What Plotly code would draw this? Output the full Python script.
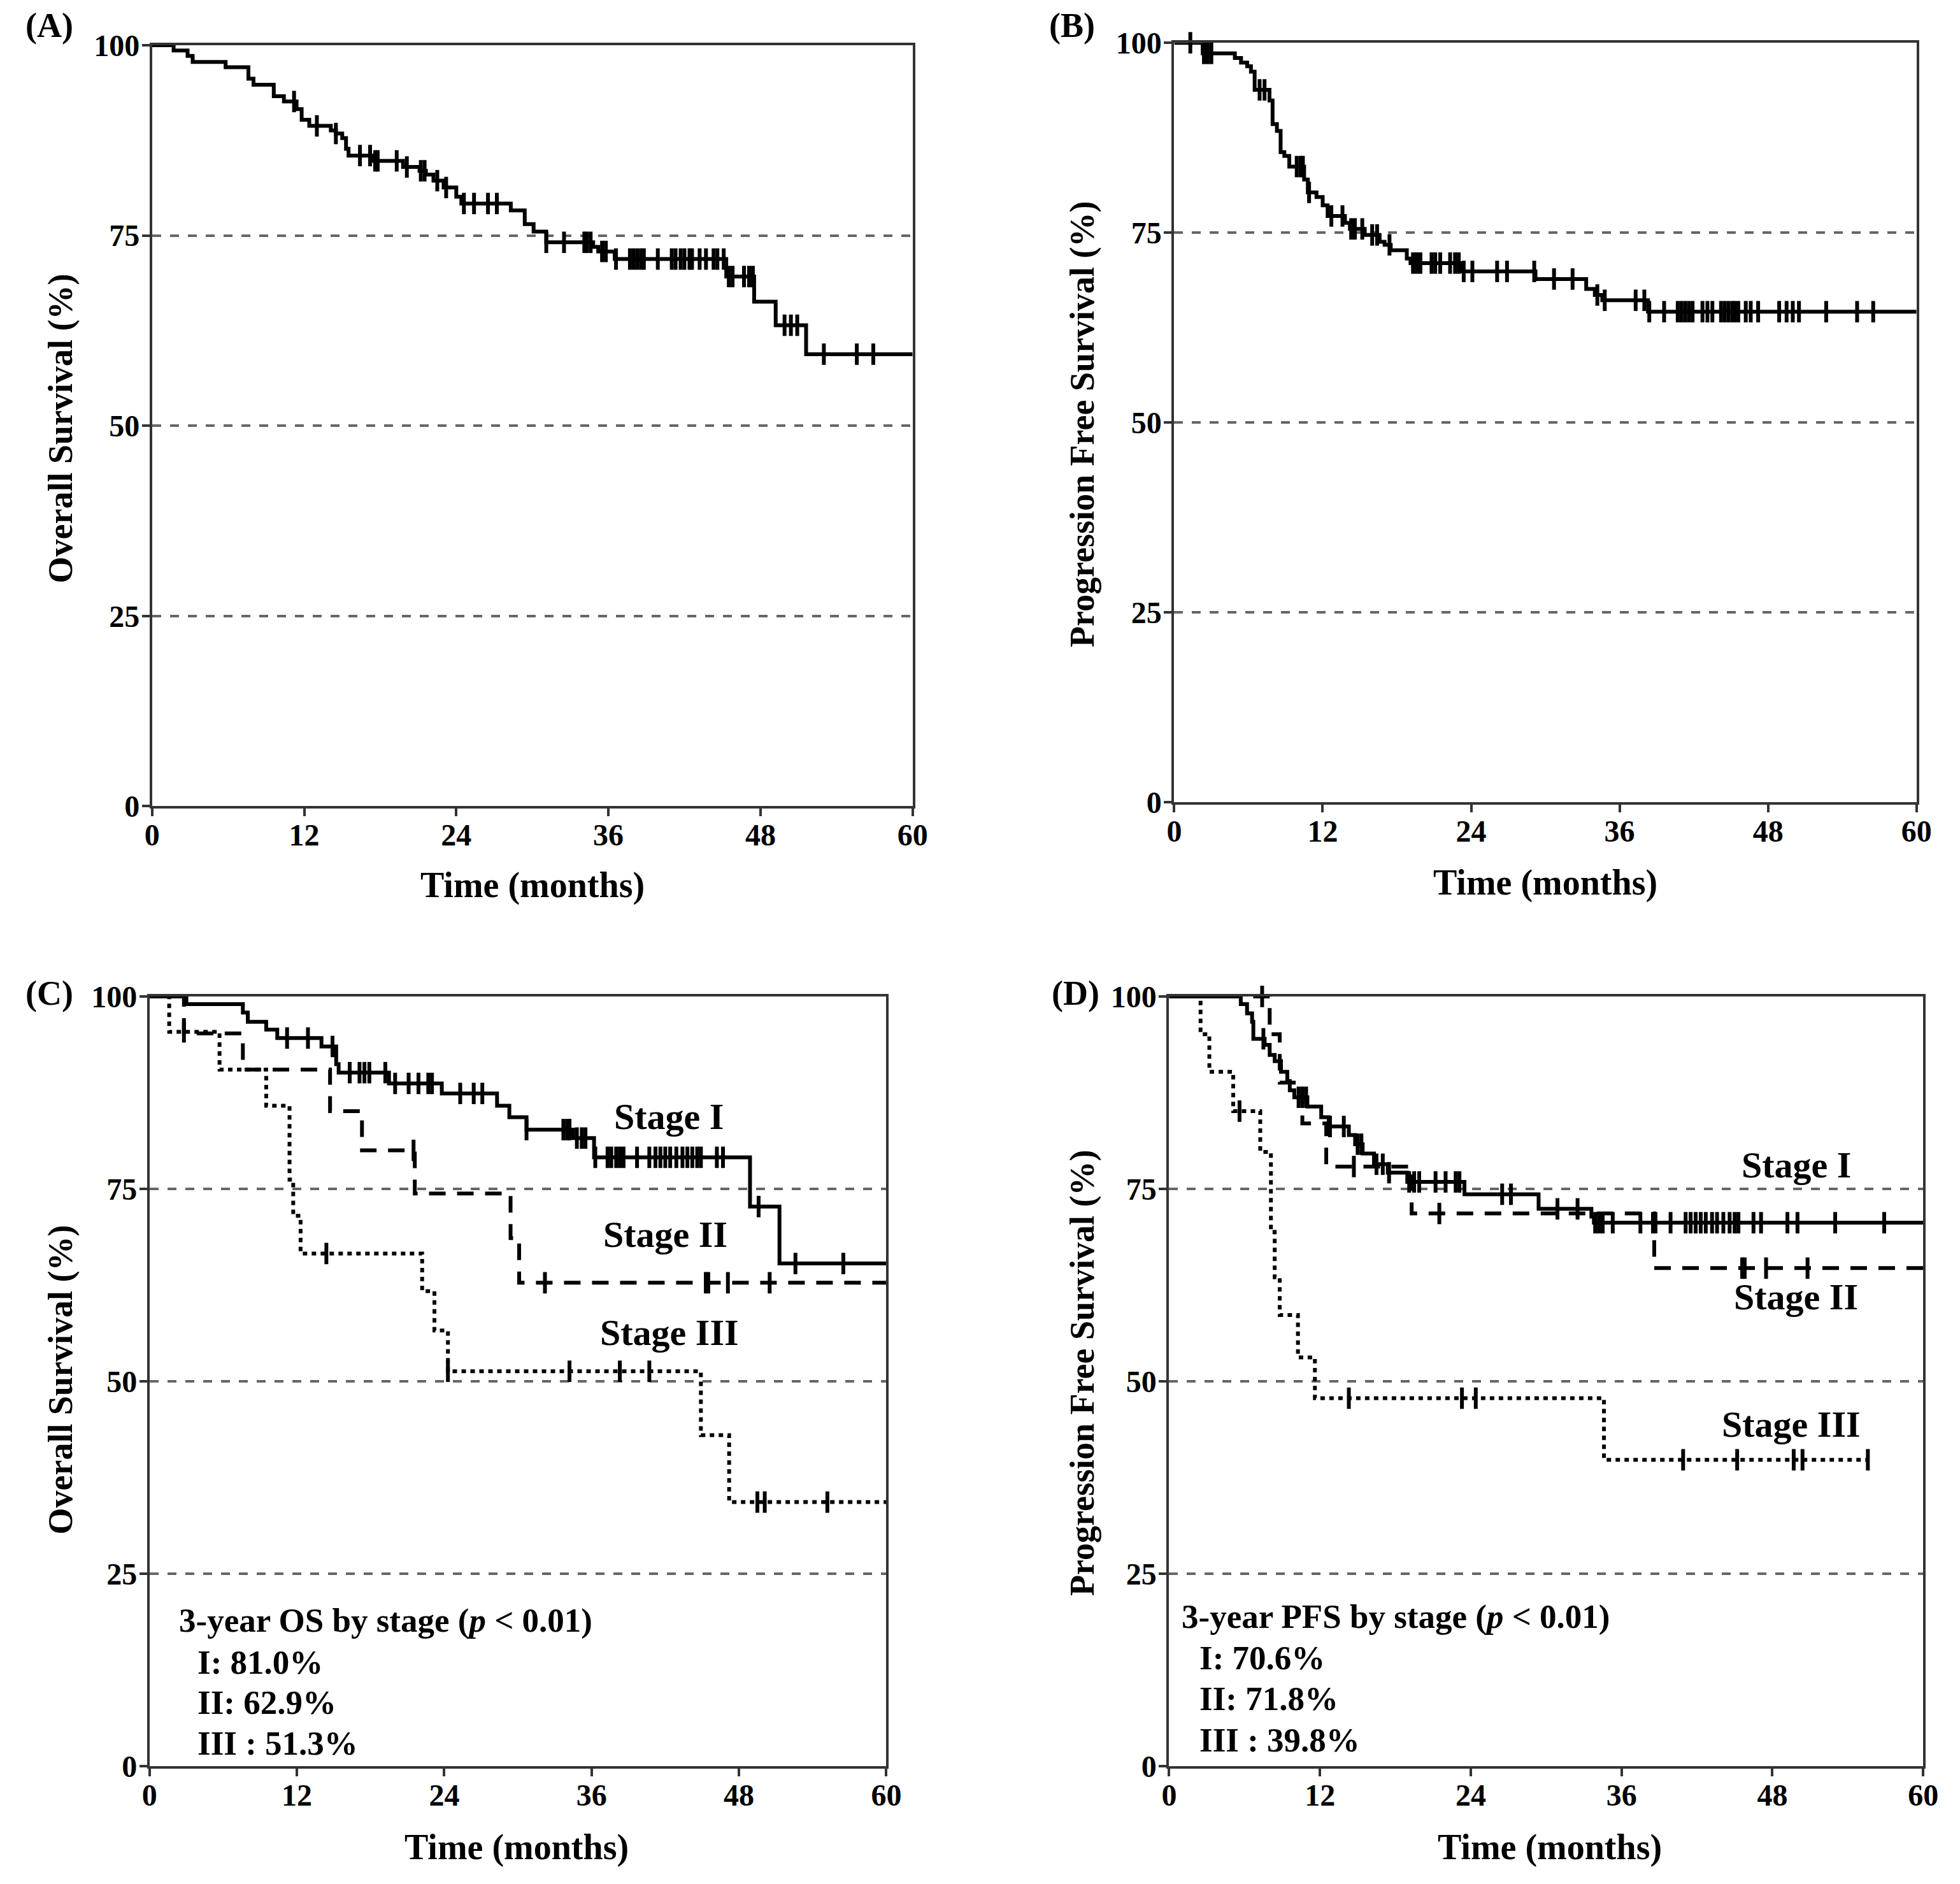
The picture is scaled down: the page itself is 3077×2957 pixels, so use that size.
import plotly.graph_objects as go

# ---------------- DATA ----------------
# Panel A: Overall survival (all patients)
A_time = [0, 1.7, 2.8, 3.2, 5.8, 7.6, 8.0, 9.6, 10.4, 11.4, 11.8, 12.4, 14.1, 14.5, 15.0, 15.3, 15.5,
          17.5, 19.8, 21.1, 21.6, 22.2, 23.0, 24.0, 24.4, 28.3, 29.4, 30.1, 31.1, 34.8, 35.2, 36.5,
          45.3, 47.5, 49.2, 51.6]
A_surv = [100, 99.3, 98.6, 97.8, 97.1, 95.6, 94.8, 93.3, 92.6, 91.6, 90.2, 89.4, 88.8, 88.4, 87.8, 86.4, 85.5,
          84.8, 84.0, 83.5, 83.0, 82.2, 81.3, 80.1, 79.2, 78.3, 76.5, 75.5, 74.1, 73.5, 72.9, 71.9,
          69.6, 66.3, 63.2, 59.4]
A_censor = [11.2, 13.0, 14.5, 16.4, 17.2, 17.6, 17.8, 19.3, 20.1, 21.2, 21.5, 22.5, 23.2, 24.6, 25.4, 26.5,
            27.2, 31.1, 32.5, 34.1, 34.3, 34.6, 35.5, 35.8, 36.6, 37.7, 38.0, 38.3, 38.6, 38.8, 39.9, 41.0,
            41.3, 41.7, 42.0, 42.4, 42.6, 43.2, 43.7, 44.3, 44.6, 45.1, 45.5, 45.8, 46.7, 47.1, 47.4, 49.9,
            50.4, 50.9, 53.0, 55.6, 56.9]
A_end = 60

# Panel B: Progression free survival (all patients)
B_time = [0, 2.3, 4.9, 5.4, 5.9, 6.2, 6.5, 7.7, 7.95, 8.3, 8.6, 8.9, 9.3, 10.5, 10.8, 11.5, 12.0, 12.4,
          13.8, 14.2, 15.4, 16.6, 17.0, 17.5, 18.8, 19.1, 23.3, 29.2, 33.3, 34.0, 34.6, 38.3]
B_surv = [100, 98.6, 98.0, 97.4, 96.9, 96.2, 93.8, 92.4, 89.3, 88.4, 85.6, 85.1, 83.7, 82.0, 80.3, 79.7,
          78.6, 77.2, 76.3, 75.5, 74.7, 73.8, 73.4, 72.7, 71.6, 71.0, 69.9, 68.9, 67.6, 66.8, 66.1, 64.6]
B_censor = [1.3, 2.4, 2.7, 3.0, 6.9, 7.3, 9.9, 10.2, 10.4, 10.9, 12.7, 13.6, 14.3, 14.6, 15.2, 16.0, 16.4,
            17.4, 19.3, 19.6, 19.9, 20.8, 21.1, 21.5, 22.3, 22.7, 23.0, 23.4, 24.1, 26.1, 26.9, 29.1, 30.7,
            32.2, 34.2, 34.8, 37.3, 38.0, 38.4, 39.6, 40.7, 41.0, 41.3, 41.6, 41.9, 42.7, 43.1, 43.5, 44.2,
            44.5, 44.8, 45.1, 45.3, 45.6, 46.2, 46.6, 47.2, 48.9, 49.5, 50.0, 50.5, 52.7, 55.2, 56.5]
B_end = 60

# Panel C: Overall survival by stage
C1_time = [0, 3.0, 7.6, 8.0, 9.5, 10.4, 14.0, 15.2, 15.4, 19.5, 23.8, 28.3, 29.3, 30.7, 34.5, 36.2, 48.9, 51.3]
C1_surv = [100, 99.0, 97.9, 96.7, 95.7, 94.6, 93.5, 91.2, 90.1, 88.7, 87.4, 85.8, 84.3, 82.7, 81.6, 79.1, 72.7, 65.3]
C1_censor = [11.2, 12.9, 14.9, 16.3, 17.1, 17.5, 17.9, 19.2, 20.0, 21.1, 21.9, 22.7, 23.0, 25.3, 26.4, 27.1,
             30.7, 33.7, 34.0, 34.2, 34.8, 35.2, 35.5, 36.3, 37.3, 37.6, 38.0, 38.3, 38.6, 39.7, 40.7, 41.2,
             41.6, 42.0, 42.4, 42.9, 43.4, 43.8, 44.2, 44.6, 44.9, 46.2, 46.7, 49.6, 52.6, 56.5]
C1_end = 60
C2_time = [0, 2.8, 7.6, 14.7, 17.3, 21.6, 29.4, 30.1]
C2_surv = [100, 95.2, 90.5, 85.1, 80.0, 74.4, 68.6, 62.8]
C2_censor = [21.5, 32.2, 45.3, 45.5, 47.1, 50.5]
C2_end = 60
C3_time = [0, 1.6, 5.7, 9.5, 11.4, 11.7, 12.3, 22.2, 23.2, 24.3, 44.9, 47.2]
C3_surv = [100, 95.4, 90.5, 85.8, 76.2, 71.5, 66.6, 61.7, 56.6, 51.3, 43.0, 34.3]
C3_censor = [2.8, 14.4, 24.3, 34.2, 38.3, 40.7, 49.5, 50.1, 55.2]
C3_end = 60

# Panel D: Progression free survival by stage
D1_time = [0, 5.7, 6.2, 6.6, 6.7, 7.6, 8.0, 8.4, 8.9, 9.4, 9.6, 9.96, 11.0, 12.1, 12.7, 14.3, 14.8, 15.4,
           16.3, 17.4, 18.95, 23.5, 29.4, 33.6, 33.8]
D1_surv = [100, 99.0, 97.8, 96.7, 94.5, 93.7, 92.4, 91.6, 90.2, 89.0, 87.8, 86.9, 85.7, 84.3, 83.1, 82.0,
           80.8, 79.6, 78.2, 77.1, 75.9, 74.3, 72.4, 71.4, 70.6]
D1_censor = [7.5, 10.3, 10.6, 10.9, 12.8, 13.9, 15.0, 15.3, 16.5, 17.0, 17.5, 19.1, 19.5, 19.9, 21.2, 22.0,
             22.8, 23.1, 26.5, 27.2, 30.9, 32.5, 33.9, 34.2, 34.5, 35.3, 37.5, 38.5, 38.7, 39.9, 41.1, 41.5,
             41.9, 42.3, 42.7, 43.2, 43.6, 44.1, 44.6, 45.0, 45.3, 46.5, 47.1, 49.2, 50.0, 53.0, 56.9]
D1_end = 60
D2_time = [0, 8.0, 8.8, 10.6, 12.5, 19.3, 38.6]
D2_surv = [100, 95.1, 88.8, 83.5, 77.9, 71.8, 64.7]
D2_censor = [7.4, 14.7, 21.5, 45.6, 45.8, 47.5, 50.8]
D2_end = 60
D3_time = [0, 2.5, 3.2, 5.1, 7.25, 8.1, 8.4, 8.8, 10.25, 11.6, 34.6]
D3_surv = [100, 95.1, 90.2, 85.1, 79.8, 69.4, 63.5, 58.6, 53.1, 47.8, 39.8]
D3_censor = [5.6, 14.3, 23.3, 24.4, 40.9, 45.2, 49.7, 50.4, 55.6]
D3_end = 55.7

x_ticks = [0, 12, 24, 36, 48, 60]
y_ticks = [0, 25, 50, 75, 100]
panel_labels = ["(A)", "(B)", "(C)", "(D)"]
y_titles = ["Overall Survival (%)", "Progression Free Survival (%)",
            "Overall Survival (%)", "Progression Free Survival (%)"]
x_title = "Time (months)"
stage_names = ["Stage I", "Stage II", "Stage III"]
C_summary = ["3-year OS by stage (<i>p</i> < 0.01)", "I: 81.0%", "II: 62.9%", "III : 51.3%"]
D_summary = ["3-year PFS by stage (<i>p</i> < 0.01)", "I: 70.6%", "II: 71.8%", "III : 39.8%"]

# ---------------- STYLE ----------------
FONT = "Liberation Serif"
W, H = 3077, 2957
domains = {
    1: ([0.0750, 0.4630], [0.5748, 0.9787]),
    2: ([0.5965, 0.9752], [0.5768, 0.9800]),
    3: ([0.0737, 0.4496], [0.0653, 0.4738]),
    4: ([0.5939, 0.9786], [0.0653, 0.4738]),
}


def surv_at(times, surv, t):
    v = surv[0]
    for ti, si in zip(times, surv):
        if ti <= t:
            v = si
    return v


def step_xy(times, surv, end):
    xs = list(times) + [end]
    ys = list(surv) + [surv[-1]]
    return xs, ys


fig = go.Figure()


def add_curve(idx, times, surv, censor, end, dash):
    xs, ys = step_xy(times, surv, end)
    xa = "x" if idx == 1 else f"x{idx}"
    ya = "y" if idx == 1 else f"y{idx}"
    fig.add_trace(go.Scatter(x=xs, y=ys, mode="lines", line=dict(color="black", width=6, shape="hv", dash=dash),
                             xaxis=xa, yaxis=ya, showlegend=False, hoverinfo="skip"))
    cy = [surv_at(times, surv, c) for c in censor]
    fig.add_trace(go.Scatter(x=censor, y=cy, mode="markers",
                             marker=dict(symbol="line-ns", size=24, line=dict(color="black", width=6)),
                             xaxis=xa, yaxis=ya, showlegend=False, hoverinfo="skip", cliponaxis=False))


DASHED = "26px,18px"
DOTTED = "7px,7px"
add_curve(1, A_time, A_surv, A_censor, A_end, "solid")
add_curve(2, B_time, B_surv, B_censor, B_end, "solid")
add_curve(3, C1_time, C1_surv, C1_censor, C1_end, "solid")
add_curve(3, C2_time, C2_surv, C2_censor, C2_end, DASHED)
add_curve(3, C3_time, C3_surv, C3_censor, C3_end, DOTTED)
add_curve(4, D1_time, D1_surv, D1_censor, D1_end, "solid")
add_curve(4, D2_time, D2_surv, D2_censor, D2_end, DASHED)
add_curve(4, D3_time, D3_surv, D3_censor, D3_end, DOTTED)

layout = dict(width=W, height=H, margin=dict(l=0, r=0, t=0, b=0, pad=0, autoexpand=False),
              paper_bgcolor="white", plot_bgcolor="white", showlegend=False, template="none")
tickfont = dict(family=FONT, size=48, color="black", weight="bold")
for i in range(1, 5):
    xd, yd = domains[i]
    sx = "" if i == 1 else str(i)
    layout[f"xaxis{sx}"] = dict(domain=xd, anchor=f"y{sx}", range=[0, 60], tickvals=x_ticks,
                                showline=True, mirror=True, linecolor="#333", linewidth=4,
                                ticks="outside", ticklen=12, tickwidth=4, tickcolor="#333",
                                ticklabelstandoff=-12,
                                showgrid=False, zeroline=False, tickfont=tickfont, automargin=False)
    layout[f"yaxis{sx}"] = dict(domain=yd, anchor=f"x{sx}", range=[0, 100], tickvals=y_ticks,
                                showline=True, mirror=True, linecolor="#333", linewidth=4,
                                ticks="outside", ticklen=12, tickwidth=4, tickcolor="#333",
                                ticklabelstandoff=-6,
                                showgrid=True, gridcolor="#666", gridwidth=3.5, griddash="14px,14px",
                                zeroline=False, tickfont=tickfont, automargin=False)
fig.update_layout(**layout)

ann = []
label_pos = [(0.0226, 1.0, "top"), (0.5445, 1.0, "top"), (0.0226, 0.4755, "middle"), (0.5460, 0.4755, "middle")]
ytitle_pos = [(0.0284, 0.7754), (0.5495, 0.7774), (0.0284, 0.2705), (0.5495, 0.2739)]
xtitle_pos = [(0.2690, 0.5329), (0.7857, 0.5343), (0.2609, 0.0221), (0.7882, 0.0221)]
for i in range(4):
    ann.append(dict(text=panel_labels[i], x=label_pos[i][0], y=label_pos[i][1], xref="paper", yref="paper",
                    showarrow=False, xanchor="center", yanchor=label_pos[i][2],
                    font=dict(family=FONT, size=54, color="black", weight="bold")))
    ann.append(dict(text=y_titles[i], x=ytitle_pos[i][0], y=ytitle_pos[i][1], xref="paper", yref="paper",
                    showarrow=False, textangle=-90, xanchor="center", yanchor="middle",
                    font=dict(family=FONT, size=54, color="black", weight="bold")))
    ann.append(dict(text=x_title, x=xtitle_pos[i][0], y=xtitle_pos[i][1], xref="paper", yref="paper",
                    showarrow=False, xanchor="center", yanchor="middle",
                    font=dict(family=FONT, size=56, color="black", weight="bold")))

stage_font = dict(family=FONT, size=58, color="black", weight="bold")
C_stage_pos = [(42.3, 84.4), (42.0, 69.1), (42.35, 56.3)]
D_stage_pos = [(49.9, 78.1), (49.9, 61.0), (49.5, 44.4)]
for name, (sx_, sy_) in zip(stage_names, C_stage_pos):
    ann.append(dict(text=name, x=sx_, y=sy_, xref="x3", yref="y3", showarrow=False,
                    xanchor="center", yanchor="middle", font=stage_font))
for name, (sx_, sy_) in zip(stage_names, D_stage_pos):
    ann.append(dict(text=name, x=sx_, y=sy_, xref="x4", yref="y4", showarrow=False,
                    xanchor="center", yanchor="middle", font=stage_font))

sum_font = dict(family=FONT, size=53, color="black", weight="bold")
C_sum_pos = [(2.3, 18.9), (3.8, 13.5), (3.8, 8.3), (3.8, 3.0)]
D_sum_pos = [(0.9, 19.4), (2.3, 14.1), (2.3, 8.8), (2.3, 3.4)]
for txt, (sx_, sy_) in zip(C_summary, C_sum_pos):
    ann.append(dict(text=txt, x=sx_, y=sy_, xref="x3", yref="y3", showarrow=False,
                    xanchor="left", yanchor="middle", font=sum_font))
for txt, (sx_, sy_) in zip(D_summary, D_sum_pos):
    ann.append(dict(text=txt, x=sx_, y=sy_, xref="x4", yref="y4", showarrow=False,
                    xanchor="left", yanchor="middle", font=sum_font))

fig.update_layout(annotations=ann)
fig.write_html("out.html")
